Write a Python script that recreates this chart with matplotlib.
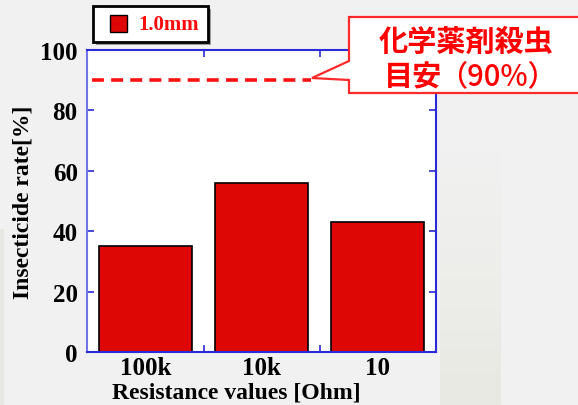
import numpy as np
import matplotlib
matplotlib.use("Agg")
import matplotlib.pyplot as plt
from matplotlib.patches import Polygon, Rectangle

# Data
categories = ["100k", "10k", "10"]
insecticide_rate = [35, 56, 43]
series_name = "1.0mm"
target_rate = 90
y_ticks = [0, 20, 40, 60, 80, 100]

W, H = 578, 406
fig = plt.figure(figsize=(W / 100, H / 100), dpi=100)
fig.patch.set_facecolor("#f1f1f1")

def fx(px):
    return px / W

def fy(py):
    return 1 - py / H

# subtle background bands
band = np.linspace(0, 1, 100).reshape(-1, 1)
bax = fig.add_axes([fx(440), 0, fx(501) - fx(440), fy(150)], zorder=-5)
bax.imshow(band, cmap=matplotlib.colors.LinearSegmentedColormap.from_list(
    "bg", ["#f1f1f1", "#e9e9e3"]), aspect="auto", extent=[0, 1, 0, 1])
bax.axis("off")
fig.patches.append(Rectangle((0, 0), fx(4), fy(230), transform=fig.transFigure,
                             facecolor="#e8e8e3", edgecolor="none", zorder=-6))

serif = "Liberation Serif"
blue = "#2a2ad6"

ax = fig.add_axes([fx(87.4), fy(353), fx(436) - fx(87.4), fy(51) - fy(353)])
ax.set_facecolor("white")
x = np.arange(len(categories))
ax.bar(x, insecticide_rate, width=0.8, color="#dd0806", edgecolor="black",
       linewidth=1.2, zorder=2)
ax.plot([-0.46, 1.42], [target_rate, target_rate], color="#ff1010",
        linewidth=2.6, dashes=(3.3, 2.0), zorder=3)

ax.set_xlim(-0.5, 2.5)
ax.set_ylim(0, 100)
ax.set_xticks(x)
ax.set_xticklabels(categories, fontfamily=serif, fontweight="bold", fontsize=18)
ax.set_xticks([0.5, 1.5], minor=True)
ax.tick_params(axis="x", which="major", length=0, pad=3)
ax.tick_params(axis="x", which="minor", direction="in", length=5, color=blue,
               width=1.2, top=True, bottom=True)
ax.set_yticks(y_ticks)
ax.set_yticklabels([str(v) for v in y_ticks], fontfamily=serif,
                   fontweight="bold", fontsize=18)
ax.tick_params(axis="y", direction="in", length=5, color=blue, width=1.2,
               left=True, right=True, pad=7)
for side, sp in ax.spines.items():
    sp.set_color(blue if side != "left" else "#7474e6")
    sp.set_linewidth(1.5)

ax.set_xlabel("Resistance values [Ohm]", fontfamily=serif, fontweight="bold",
              fontsize=17)
ax.xaxis.set_label_coords(0.428, -0.098)
ax.set_ylabel("Insecticide rate[%]", fontfamily=serif, fontweight="bold",
              fontsize=17, labelpad=5)

# legend box with shadow
fig.patches.append(Rectangle((fx(96), fy(46)), fx(208) - fx(93), fy(7) - fy(43),
                             transform=fig.transFigure, facecolor="#9a9a9a",
                             edgecolor="none", zorder=4))
fig.patches.append(Rectangle((fx(93), fy(43)), fx(208) - fx(93), fy(7) - fy(43),
                             transform=fig.transFigure, facecolor="white",
                             edgecolor="black", linewidth=2.0, zorder=5))
fig.patches.append(Rectangle((fx(110), fy(33)), fx(127) - fx(110), fy(16) - fy(33),
                             transform=fig.transFigure, facecolor="#dd0806",
                             edgecolor="black", linewidth=1.0, zorder=6))
fig.text(fx(138), fy(25), series_name, fontfamily=serif, fontweight="bold",
         fontsize=15, color="#ff0a0a", ha="left", va="center", zorder=7)

# callout box
pts = [(349, 18), (590, 18), (590, 94), (349, 94), (349, 81), (312, 79),
       (349, 62)]
fig.patches.append(Polygon([(fx(a), fy(b)) for a, b in pts], closed=True,
                           transform=fig.transFigure, facecolor="white",
                           edgecolor="#ff2a2a", linewidth=1.6, zorder=8))
cjk = ["Noto Sans CJK JP", "DejaVu Sans"]
fig.text(fx(466), fy(42), "化学薬剤殺虫", family=cjk, fontweight="bold",
         fontsize=21, color="#ff0000", ha="center", va="center", zorder=9)
fig.text(fx(384), fy(77), "目安", family=cjk, fontweight="bold",
         fontsize=21, color="#ff0000", ha="left", va="center", zorder=9)
fig.text(fx(438), fy(77), "（90%）", family=cjk, fontweight="medium",
         fontsize=21, color="#ff0000", ha="left", va="center", zorder=9)

fig.savefig("out.png", dpi=100, facecolor=fig.get_facecolor())
